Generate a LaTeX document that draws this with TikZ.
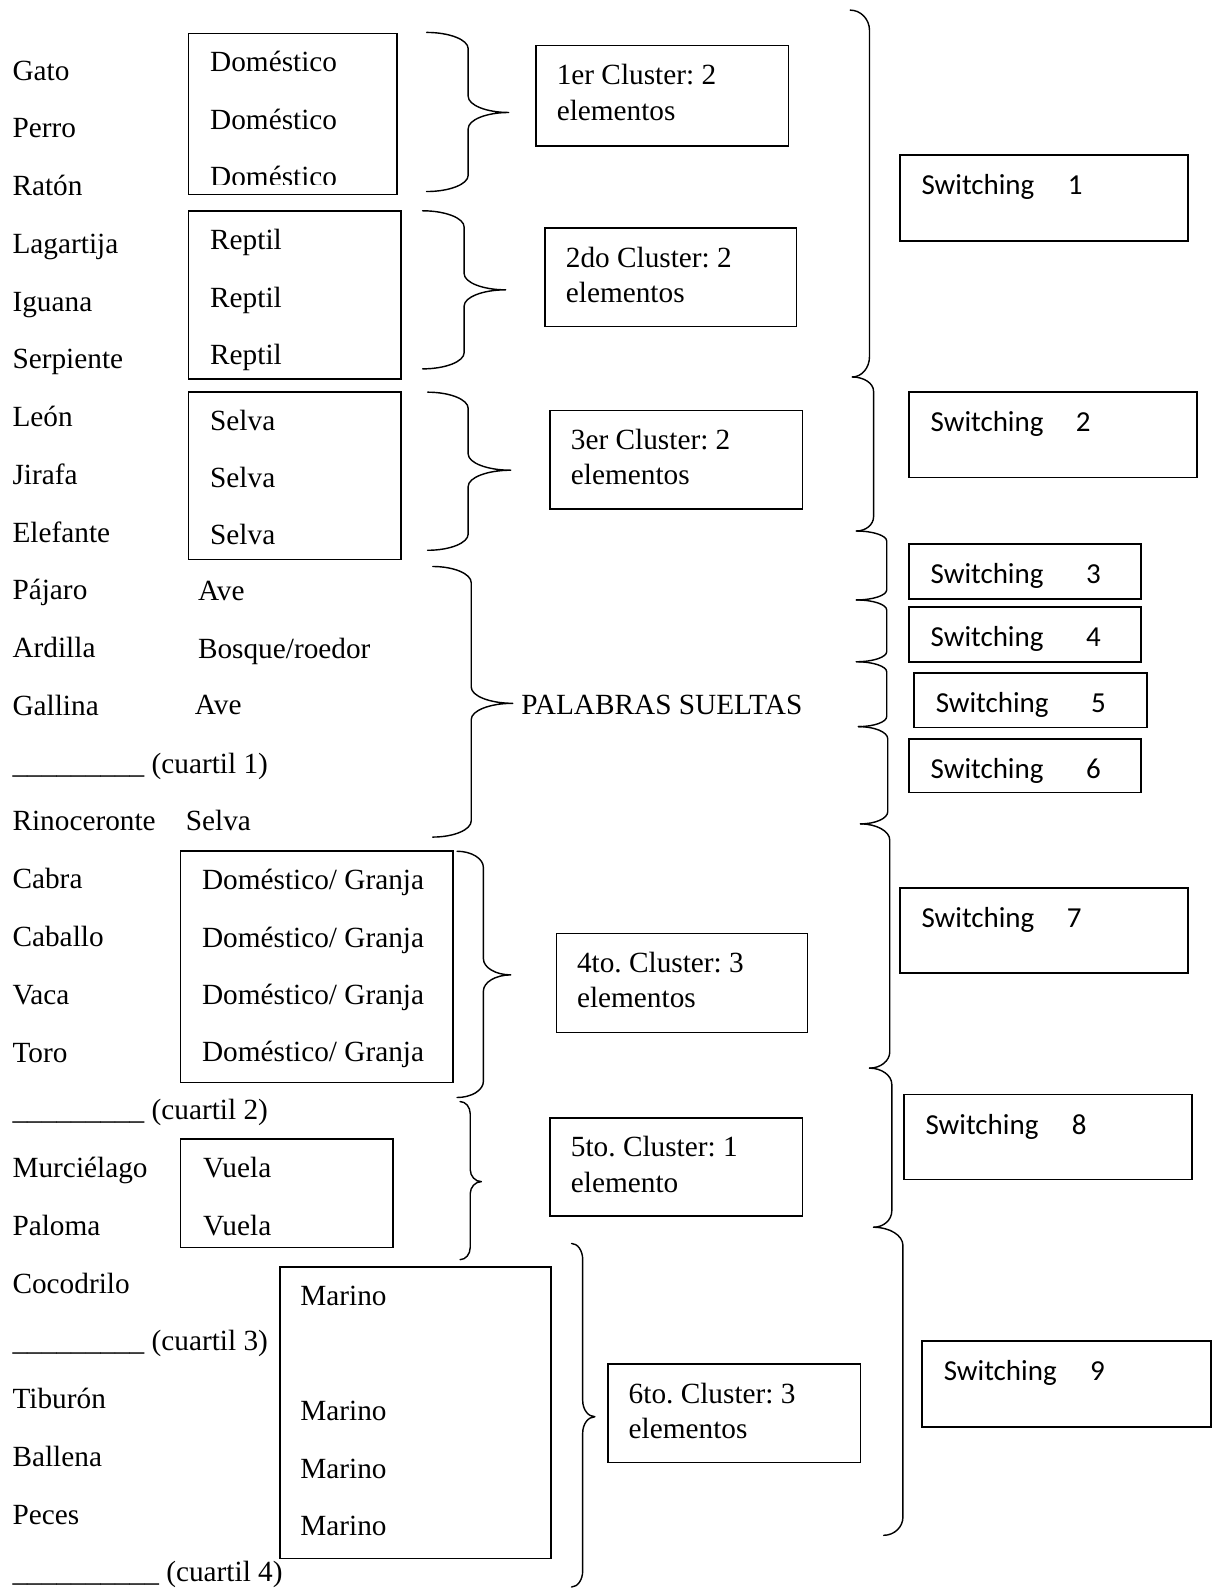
\documentclass[tikz,border=0pt]{standalone}
\usepackage{fontspec}
\setmainfont{Liberation Serif}
\newfontfamily\swfont{Carlito}
\usetikzlibrary{fit}
\frenchspacing
\newcommand\rayas{\_\_\_\_\_\_\_\_\_}
% left brace with tip: x end, x stem, x tip, y top, y bottom, y tip, radius
\newcommand\clbrace[7]{%
  \draw[brc] (#1,#4) .. controls ({#1+0.55*(#2-#1)},#4) and (#2,{#4+0.45*#7}) .. (#2,{#4+#7})
    -- (#2,{#6-#7}) .. controls (#2,{#6-0.45*#7}) and ({#3-0.55*(#3-#2)},#6) .. (#3,#6)
    .. controls ({#3-0.55*(#3-#2)},#6) and (#2,{#6+0.45*#7}) .. (#2,{#6+#7})
    -- (#2,{#5-#7}) .. controls (#2,{#5-0.45*#7}) and ({#1+0.55*(#2-#1)},#5) .. (#1,#5);}
% bracket without tip: x top end, x stem, x bottom end, y top, y bottom, radius
\newcommand\swbrace[6]{%
  \draw[brc] (#1,#4) .. controls ({#1+0.55*(#2-#1)},#4) and (#2,{#4+0.45*#6}) .. (#2,{#4+#6})
    -- (#2,{#5-#6}) .. controls (#2,{#5-0.45*#6}) and ({#3+0.55*(#2-#3)},#5) .. (#3,#5);}
\tikzset{
  wbox/.style={draw, line width=0.8pt, inner sep=0pt},
  wtext/.style={anchor=base west, inner sep=0pt, font=\fontsize{14.45}{17}\selectfont},
  swtext/.style={wtext, font=\swfont\fontsize{14.3}{17}\selectfont},
  brc/.style={line width=0.7pt, line cap=round, line join=round},
}
\begin{document}
\begin{tikzpicture}[x=0.5pt, y=-0.5pt]
  \useasboundingbox (0,0) rectangle (1198,1568);
  % word list
  \foreach \w [count=\i from 0] in {Gato,Perro,Ratón,Lagartija,Iguana,Serpiente,
      León,Jirafa,Elefante,Pájaro,Ardilla,Gallina,{\rayas{} (cuartil 1)},Rinoceronte,
      Cabra,Caballo,Vaca,Toro,{\rayas{} (cuartil 2)},Murciélago,Paloma,Cocodrilo,
      {\rayas{} (cuartil 3)},Tiburón,Ballena,Peces,{\rayas\_{} (cuartil 4)}}
    \node[wtext] (w\i) at (12,{79+57*\i}) {\w};
  % category boxes
  \node[wbox, fit={(186,33) (392,192)}] (bdom) {};
  \begin{scope}
    \clip (186,33) rectangle (392,182.5);
    \foreach \y [count=\i] in {70.5,127.5,184.5}
      \node[wtext] (dom\i) at (207,\y) {Doméstico};
  \end{scope}
  \node[wbox, fit={(186,208) (396,374)}] (brep) {};
  \foreach \y [count=\i] in {246.5,303.5,359.5}
    \node[wtext] (rep\i) at (207,\y) {Reptil};
  \node[wbox, fit={(186,387) (396,552)}] (bsel) {};
  \foreach \y [count=\i] in {424.5,481.5,537.5}
    \node[wtext] (sel\i) at (207,\y) {Selva};
  \node[wtext] (ave1) at (195,592.5) {Ave};
  \node[wtext] (bosq) at (195,649.5) {Bosque/roedor};
  \node[wtext] (ave2) at (192,705.5) {Ave};
  \node[wtext] (sel4) at (183,819.5) {Selva};
  \node[wbox, fit={(178,840) (447,1068)}] (bgra) {};
  \foreach \y [count=\i] in {877.5,934.5,991.5,1047.5}
    \node[wtext] (gra\i) at (199,\y) {Doméstico/ Granja};
  \node[wbox, fit={(178,1124) (388,1231)}] (bvue) {};
  \foreach \y [count=\i] in {1161.5,1219.5}
    \node[wtext] (vue\i) at (200,\y) {Vuela};
  \node[wbox, fit={(276,1250) (544,1538)}] (bmar) {};
  \foreach \y [count=\i] in {1288.5,1401.5,1458.5,1515.5}
    \node[wtext] (mar\i) at (296,\y) {Marino};
  \node[wtext] (sueltas) at (514,705.5) {PALABRAS SUELTAS};
  % cluster boxes
  \foreach \n/\xa/\ya/\xb/\yb/\ta/\tb in {1/529/45/778/144/1er Cluster: 2/elementos,
      2/538/225/786/322/2do Cluster: 2/elementos,
      3/543/405/792/502/3er Cluster: 2/elementos,
      4/549/921/797/1019/4to. Cluster: 3/elementos,
      5/543/1103/792/1200/5to. Cluster: 1/elemento,
      6/600/1346/849/1443/6to. Cluster: 3/elementos} {
    \node[wbox, fit={(\xa,\ya) (\xb,\yb)}] (c\n) {};
    \node[wtext] (c\n-1) at (\xa+20,\ya+38.5) {\ta};
    \node[wtext] (c\n-2) at (\xa+20,\ya+73.5) {\tb};
  }
  % switching boxes
  \foreach \n/\xa/\ya/\xb/\yb/\g in {1/888/153/1172/238/16.5,2/897/387/1181/471/16,
      3/897/537/1126/591/21,4/897/599/1126/653/21,5/902/664/1132/718/21,
      6/897/729/1126/782/21,7/888/876/1172/960/16,8/892/1080/1176/1164/16.5,
      9/910/1323/1195/1408/16.5} {
    \node[wbox, fit={(\xa,\ya) (\xb,\yb)}] (s\n) {};
    \node[swtext] (s\n-t) at (\xa+21,\ya+39) {Switching\hspace{\g pt}\n};
  }
  % braces
  \foreach \xa/\xs/\xt/\ya/\yb/\yt/\r in {421/462/502/32/189/111/16,
      417/458/499/208/364/286/16,422/462/504/387/543/464/16,
      427/465/506/559/826/694/16,451/477/504/840/1083/962/16,
      454/464/475/1087/1243/1166/12,564/575/587/1227/1566/1398/16}
    {\clbrace{\xa}{\xs}{\xt}{\ya}{\yb}{\yt}{\r}}
  \foreach \xa/\xs/\xb/\ya/\yb/\r in {839/858/841/10/372/20,841/862/845/372/524/14,
      845/875/845/524/592/10,845/875/845/592/653/10,845/875/847/653/717/10,
      847/876/849/717/813/12,849/878/858/813/1054/16,858/880/862/1054/1211/16,
      862/891/872/1211/1515/18}
    {\swbrace{\xa}{\xs}{\xb}{\ya}{\yb}{\r}}
\end{tikzpicture}
\end{document}
